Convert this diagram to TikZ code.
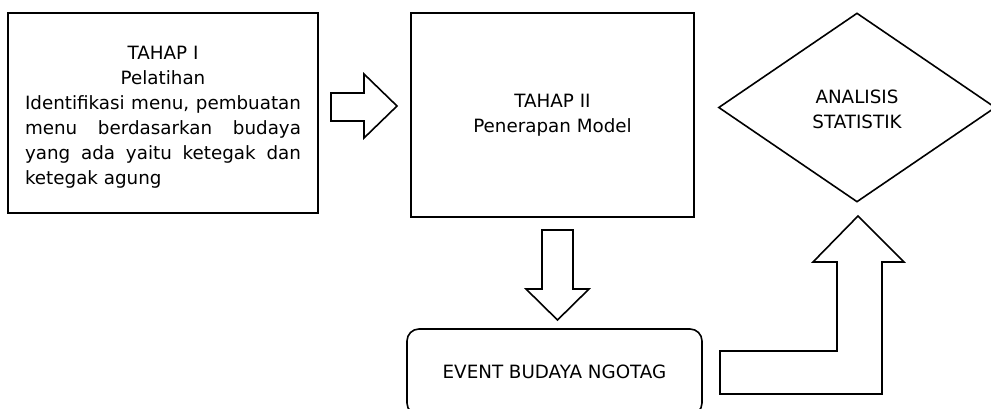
\documentclass[tikz,border=0pt]{standalone}
\usepackage{fontspec}
\setmainfont{DejaVu Sans}
\usetikzlibrary{shapes.geometric}
\begin{document}
\begin{tikzpicture}[x=1pt,y=-1pt,
  shapebox/.style={draw, line width=1.6pt, inner sep=0pt},
  txt/.style={font=\fontsize{18.3}{25}\selectfont, align=center, inner sep=0pt},
  blockarrow/.style={draw, line width=1.6pt, line join=miter, fill=white}]
\useasboundingbox (0,0) rectangle (991,409);
\clip (0,0) rectangle (991,409);
% boxes
\node[shapebox, minimum width=310pt, minimum height=200pt] (box1) at (163,113) {};
\node[font=\fontsize{18.3}{25}\selectfont, inner sep=0pt, text width=276pt, align=justify] (t1) at (163,117)
  {\hbadness=10000 \hyphenpenalty=10000
   {\centering TAHAP I\\ Pelatihan\par}
   \noindent Identifikasi menu, pembuatan\linebreak menu berdasarkan budaya\linebreak yang ada yaitu ketegak dan\linebreak ketegak agung};
\node[shapebox, minimum width=283pt, minimum height=204pt] (box2) at (552.5,115) {};
\node[txt] (t2) at (box2.center) {TAHAP II\\Penerapan Model};
\node[shapebox, diamond, minimum width=277pt, minimum height=189pt] (ana) at (857,107.5) {};
\node[txt] (t3) at (857,109.5) {ANALISIS\\STATISTIK};
\node[shapebox, txt, rounded corners=12pt, minimum width=295pt, minimum height=86pt] (ev) at (554.5,372) {EVENT BUDAYA NGOTAG};
% block arrows
\draw[blockarrow] (331,93) -- (364,93) -- (364,74) -- (397,106) -- (364,138) -- (364,121) -- (331,121) -- cycle;
\draw[blockarrow] (542,230) -- (573,230) -- (573,289) -- (589,289) -- (557.5,320) -- (526,289) -- (542,289) -- cycle;
\draw[blockarrow] (720,351) -- (837,351) -- (837,262) -- (813,262) -- (858,216) -- (904,262) -- (882,262) -- (882,394) -- (720,394) -- cycle;
\end{tikzpicture}
\end{document}
